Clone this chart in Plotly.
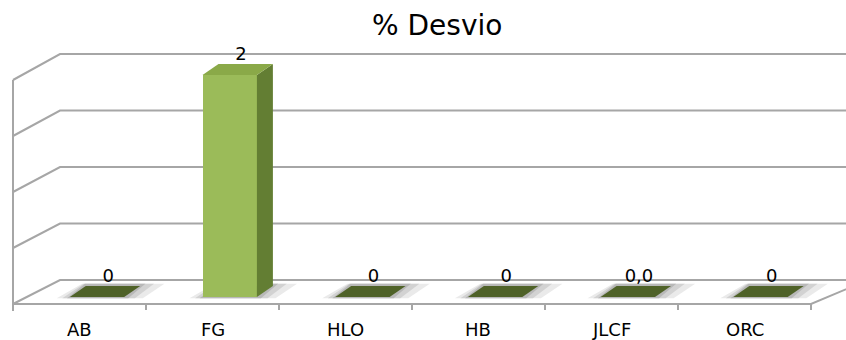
import plotly.graph_objects as go

# ---------------- data ----------------
categories = ["AB", "FG", "HLO", "HB", "JLCF", "ORC"]
values = [0, 2, 0, 0, 0, 0]
value_labels = ["0", "2", "0", "0", "0,0", "0"]
grid_values = [0, 0.5, 1, 1.5, 2]
title_text = "% Desvio"

# ---------------- geometry (pixels of the 3-D frame) ----------------
W, H = 846, 340
X0_PX, STEP_PX = 97.0, 132.7      # bar plane: centre of first category, spacing
Y0_PX, UNIT_PX = 297.0, 111.0     # bar plane: value 0 and pixels per unit
xmin = -X0_PX / STEP_PX
xmax = (W - X0_PX) / STEP_PX
ymax = Y0_PX / UNIT_PX
ymin = (Y0_PX - H) / UNIT_PX


def px(p):
    return xmin + p / W * (xmax - xmin)


def py(p):
    return ymax - p / H * (ymax - ymin)


FRONT_L, BACK_L, BACK_R, FRONT_R = 13.0, 60.0, 868.0, 811.0


def y_front(v):
    return 304.0 - 112.0 * v


def y_back(v):
    return 280.0 - 113.0 * v


BW = 0.41                      # bar width (category units)
DDX = 16.0 / STEP_PX           # bar depth offset x
DDY = 11.0 / UNIT_PX           # bar depth offset y

FRONT_COL = "#9BBB59"
SIDE_COL = "#637E33"
TOP_COL = "#8AA948"
ZERO_TOP_COL = "#4F6228"
GRID_COL = "#A6A6A6"

fig = go.Figure()

# ---------------- frame (walls, floor, gridlines) ----------------
shapes = []
for v in grid_values:
    path = "M {} {} L {} {} L {} {}".format(
        px(FRONT_L), py(y_front(v)), px(BACK_L), py(y_back(v)), px(BACK_R), py(y_back(v)))
    shapes.append(dict(type="path", path=path, xref="x", yref="y", layer="below",
                       line=dict(color=GRID_COL, width=2)))
# left front vertical edge
shapes.append(dict(type="line", xref="x", yref="y", layer="below",
                   x0=px(FRONT_L), x1=px(FRONT_L),
                   y0=py(y_front(max(grid_values))), y1=py(y_front(0) + 7),
                   line=dict(color=GRID_COL, width=2)))
# floor front edge + right edge
path = "M {} {} L {} {} L {} {}".format(
    px(FRONT_L), py(y_front(0)), px(FRONT_R), py(y_front(0)), px(BACK_R), py(y_back(0)))
shapes.append(dict(type="path", path=path, xref="x", yref="y", layer="below",
                   line=dict(color=GRID_COL, width=2)))
# category tick marks on the front floor edge
n = len(categories)
fstep = (FRONT_R - FRONT_L) / n
for k in range(n + 1):
    xk = FRONT_L + fstep * k
    shapes.append(dict(type="line", xref="x", yref="y", layer="below",
                       x0=px(xk), x1=px(xk), y0=py(y_front(0)), y1=py(y_front(0) + 6),
                       line=dict(color=GRID_COL, width=2)))

# ---------------- bars ----------------
idx = list(range(n))

# floor shadows (drawn below the bars)
for i, v in zip(idx, values):
    for grow, col in [(0.14, "#EAEAEA"), (0.08, "#D2D2D2"), (0.03, "#B8B8B8")]:
        path = "M {} {} L {} {} L {} {} L {} {} Z".format(
            i - BW / 2 - grow * 0.7, -0.012,
            i + BW / 2 + grow, -0.012,
            i + BW / 2 + DDX + grow * 1.3, DDY + 0.02,
            i - BW / 2 + DDX - grow * 0.2, DDY + 0.02)
        shapes.append(dict(type="path", path=path, xref="x", yref="y", layer="below",
                           fillcolor=col, line=dict(width=0)))

# front faces
fig.add_trace(go.Bar(x=idx, y=values, width=BW,
                     marker=dict(color=FRONT_COL, line=dict(width=0)),
                     hoverinfo="skip"))

# side faces
for i, v in zip(idx, values):
    if v > 0:
        xs = [i + BW / 2, i + BW / 2 + DDX, i + BW / 2 + DDX, i + BW / 2, i + BW / 2]
        ys = [0, DDY, v + DDY, v, 0]
        fig.add_trace(go.Scatter(x=xs, y=ys, fill="toself", fillcolor=SIDE_COL,
                                 mode="lines", line=dict(width=0), hoverinfo="skip"))

# top faces
for i, v in zip(idx, values):
    xs = [i - BW / 2, i + BW / 2, i + BW / 2 + DDX, i - BW / 2 + DDX, i - BW / 2]
    ys = [v, v, v + DDY, v + DDY, v]
    fig.add_trace(go.Scatter(x=xs, y=ys, fill="toself",
                             fillcolor=TOP_COL if v > 0 else ZERO_TOP_COL,
                             mode="lines", line=dict(width=0), hoverinfo="skip"))

# data labels
fig.add_trace(go.Scatter(x=[i + DDX * 0.7 for i in idx], y=[v + DDY for v in values],
                         mode="text", text=value_labels, textposition="top center",
                         textfont=dict(family="DejaVu Sans", size=18, color="#000000"),
                         hoverinfo="skip"))

# ---------------- annotations: category labels + title ----------------
annotations = []
for k, c in enumerate(categories):
    annotations.append(dict(x=(FRONT_L + fstep * (k + 0.5)) / W, y=1 - 329 / H,
                            xref="paper", yref="paper", xanchor="center", yanchor="middle",
                            text=c, showarrow=False,
                            font=dict(family="DejaVu Sans", size=18, color="#000000")))
annotations.append(dict(x=437 / W, y=1 - 26 / H, xref="paper", yref="paper",
                        xanchor="center", yanchor="middle",
                        text=title_text, showarrow=False,
                        font=dict(family="DejaVu Sans", size=28, color="#000000")))

fig.update_layout(
    width=W, height=H, autosize=False,
    margin=dict(l=0, r=0, t=0, b=0),
    paper_bgcolor="white", plot_bgcolor="white",
    showlegend=False,
    shapes=shapes, annotations=annotations,
    xaxis=dict(range=[xmin, xmax], visible=False, showgrid=False, zeroline=False, fixedrange=True),
    yaxis=dict(range=[ymin, ymax], visible=False, showgrid=False, zeroline=False, fixedrange=True),
    bargap=0,
)

fig.write_html("out.html")
